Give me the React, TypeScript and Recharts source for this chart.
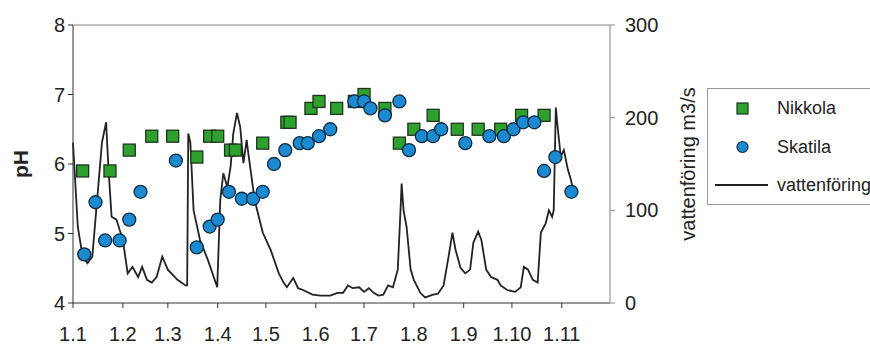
import { ComposedChart, Scatter, Line, XAxis, YAxis, ReferenceLine } from 'recharts';

// dag räknat från 1.1
const monthStarts = [0, 31, 59, 90, 120, 151, 181, 212, 243, 273, 304];
const monthLabels = ['1.1', '1.2', '1.3', '1.4', '1.5', '1.6', '1.7', '1.8', '1.9', '1.10', '1.11'];

const phTicks = [4, 5, 6, 7, 8];
const flowTicks = [0, 100, 200, 300];

const seriesNames = ['Nikkola', 'Skatila', 'vattenföring'];

const nikkolaDays = [6, 23, 35, 49, 62, 77, 85, 90, 98, 101, 118, 133, 135, 148, 153, 164, 175, 181, 194, 203, 212, 224, 239, 252, 266, 279, 293];
const nikkolaPh = [5.9, 5.9, 6.2, 6.4, 6.4, 6.1, 6.4, 6.4, 6.2, 6.2, 6.3, 6.6, 6.6, 6.8, 6.9, 6.8, 6.9, 7.0, 6.8, 6.3, 6.5, 6.7, 6.5, 6.5, 6.5, 6.7, 6.7];

const skatilaDays = [7, 14, 20, 29, 35, 42, 64, 77, 85, 90, 97, 105, 112, 118, 125, 132, 141, 146, 153, 160, 175, 181, 185, 194, 203, 209, 217, 224, 229, 244, 259, 268, 274, 280, 287, 293, 300, 310];
const skatilaPh = [4.7, 5.45, 4.9, 4.9, 5.2, 5.6, 6.05, 4.8, 5.1, 5.2, 5.6, 5.5, 5.5, 5.6, 6.0, 6.2, 6.3, 6.3, 6.4, 6.5, 6.9, 6.9, 6.8, 6.7, 6.9, 6.2, 6.4, 6.4, 6.5, 6.3, 6.4, 6.4, 6.5, 6.6, 6.6, 5.9, 6.1, 5.6];

const flowDays = [
  0, 3, 6, 9, 12, 15, 18, 20.6, 22, 24,
  27, 31, 34, 37, 40.5, 43, 46, 49, 52, 55.5,
  59, 65, 70, 71, 71.7, 73, 75, 79, 84, 89.7,
  91.6, 93.5, 96, 98, 99.7, 102, 104, 106, 108, 109,
  113, 118, 123, 128, 131, 133, 137, 140, 143, 149,
  154, 160, 164.5, 168, 171, 174, 178, 181, 184, 187,
  190, 193, 196, 199, 202, 203.7, 204.4, 205.6, 207.5, 210,
  212, 216, 219, 224, 227, 230.5, 233.6, 236, 238, 241,
  244, 247, 249, 252, 254, 257, 260, 264, 266, 270,
  275, 278.5, 280.4, 283, 286, 289, 291, 294, 296, 298,
  299, 300.3, 301.6, 303.4, 305.3, 307.8, 309.7, 311,
];
const flowValues = [
  173, 82, 50, 43, 50, 111, 173, 195, 147, 93,
  90, 68, 32, 39, 28, 39, 25, 22, 28, 50,
  36, 25, 19, 19, 183, 173, 100, 68, 46, 17,
  111, 140, 125, 147, 183, 205, 190, 151, 176, 162,
  111, 76, 57, 32, 22, 17, 27, 16, 14, 9,
  8, 8, 11, 11, 19, 16, 17, 12, 16, 11,
  8, 9, 19, 17, 36, 100, 129, 100, 82, 36,
  25, 11, 6, 9, 10, 19, 50, 76, 57, 38,
  32, 36, 65, 77, 68, 36, 28, 25, 19, 14,
  12, 17, 39, 36, 25, 22, 76, 86, 100, 93,
  100, 211, 187, 158, 165, 144, 133, 122,
];

const nikkolaData = nikkolaDays.map((day, i) => ({ day, ph: nikkolaPh[i] }));
const skatilaData = skatilaDays.map((day, i) => ({ day, ph: skatilaPh[i] }));
const flowData = flowDays.map((day, i) => ({ day, flow: flowValues[i] }));

const FONT = '"Liberation Sans", Arial, sans-serif';
const GREEN = '#2ea02e';
const GREEN_EDGE = '#1d351d';
const BLUE = '#1b8ad0';
const BLUE_EDGE = '#0e2b40';

const SquareMark = (props: any) => {
  const { cx, cy } = props;
  return <rect x={cx - 6} y={cy - 6} width={12} height={12} fill={GREEN} stroke={GREEN_EDGE} strokeWidth={1.3} />;
};

const CircleMark = (props: any) => {
  const { cx, cy } = props;
  return <circle cx={cx} cy={cy} r={6.5} fill={BLUE} stroke={BLUE_EDGE} strokeWidth={1.3} />;
};

// recharts skriver över x/y på label-elementet, därför titleX
const AxisTitle = ({ viewBox, title, titleX, bold }: any) => {
  const cy = viewBox.y + viewBox.height / 2;
  return (
    <text
      x={titleX}
      y={cy}
      transform={`rotate(-90, ${titleX}, ${cy})`}
      textAnchor="middle"
      dominantBaseline="central"
      fontFamily={FONT}
      fontSize={bold ? 21 : 20}
      fontWeight={bold ? 'bold' : 'normal'}
      fill="#222"
    >
      {title}
    </text>
  );
};

function LegendBox() {
  return (
    <svg width={200} height={118} style={{ position: 'absolute', left: 707, top: 88 }}>
      <rect x={0.5} y={0.5} width={199} height={116} fill="#fff" stroke="#999" />
      <rect x={30} y={15} width={11} height={11} fill={GREEN} stroke={GREEN_EDGE} strokeWidth={1.2} />
      <circle cx={35.5} cy={59} r={5.5} fill={BLUE} stroke={BLUE_EDGE} strokeWidth={1.2} />
      <line x1={8} x2={61} y1={97} y2={97} stroke="#222" strokeWidth={2} />
      {seriesNames.map((name, i) => (
        <text key={name} x={70} y={20 + i * 38.5} dominantBaseline="central" fontFamily={FONT} fontSize={18} fill="#222">
          {name}
        </text>
      ))}
    </svg>
  );
}

export default function App() {
  return (
    <div style={{ position: 'absolute', left: 0, top: 0, width: 870, height: 345, overflow: 'hidden', background: '#fff' }}>
      <ComposedChart width={870} height={345} margin={{ top: 25, right: 170, bottom: 12, left: 0 }}>
        <XAxis
          type="number"
          dataKey="day"
          domain={[0, 334]}
          ticks={monthStarts}
          tickFormatter={(v: number) => monthLabels[monthStarts.indexOf(v)] ?? ''}
          interval={0}
          height={30}
          stroke="#333"
          tickSize={5}
          tickMargin={19}
          tick={{ fontFamily: FONT, fontSize: 20, fill: '#222' }}
        />
        <YAxis
          yAxisId="ph"
          domain={[4, 8]}
          ticks={phTicks}
          width={73}
          stroke="#333"
          tickSize={5}
          tickMargin={3}
          tick={{ fontFamily: FONT, fontSize: 20, fill: '#222' }}
          label={<AxisTitle title="pH" titleX={20} bold />}
        />
        <YAxis
          yAxisId="flow"
          orientation="right"
          domain={[0, 300]}
          ticks={flowTicks}
          width={90}
          stroke="#888"
          tickSize={5}
          tickMargin={10}
          tick={{ fontFamily: FONT, fontSize: 20, fill: '#222' }}
          label={<AxisTitle title="vattenföring m3/s" titleX={688} />}
        />
        <ReferenceLine yAxisId="ph" y={8} stroke="#888" />
        <Scatter
          name={seriesNames[0]}
          data={nikkolaData}
          dataKey="ph"
          yAxisId="ph"
          shape={SquareMark}
          isAnimationActive={false}
        />
        <Scatter
          name={seriesNames[1]}
          data={skatilaData}
          dataKey="ph"
          yAxisId="ph"
          shape={CircleMark}
          isAnimationActive={false}
        />
        <Line
          name={seriesNames[2]}
          data={flowData}
          dataKey="flow"
          yAxisId="flow"
          type="linear"
          stroke="#222"
          strokeWidth={1.8}
          dot={false}
          activeDot={false}
          isAnimationActive={false}
        />
      </ComposedChart>
      <LegendBox />
    </div>
  );
}
